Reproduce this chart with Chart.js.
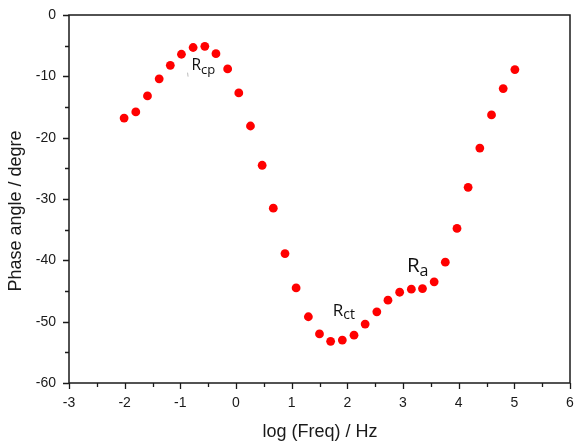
<!DOCTYPE html>
<html>
<head>
<meta charset="utf-8">
<script src="https://cdn.jsdelivr.net/npm/chart.js@4/dist/chart.umd.min.js"></script>
<style>
html,body{margin:0;padding:0;background:#fff;}
#wrap{width:575px;height:447px;position:relative;}
</style>
</head>
<body>
<div id="wrap"><canvas id="c" width="575" height="447"></canvas></div>
<script>
// Data
const logFreq = [-2.01,-1.80,-1.59,-1.38,-1.18,-0.98,-0.77,-0.56,-0.36,-0.15,0.05,0.26,0.47,0.67,0.88,1.08,1.30,1.50,1.70,1.91,2.12,2.32,2.53,2.73,2.94,3.15,3.35,3.56,3.76,3.97,4.17,4.38,4.59,4.80,5.01];
const phaseAngle = [-16.8,-15.8,-13.2,-10.4,-8.2,-6.4,-5.3,-5.1,-6.3,-8.8,-12.7,-18.1,-24.5,-31.5,-38.9,-44.5,-49.2,-52.0,-53.2,-53.0,-52.2,-50.4,-48.4,-46.5,-45.2,-44.7,-44.6,-43.5,-40.3,-34.8,-28.1,-21.7,-16.3,-12.0,-8.9];
const xTicks = [-3,-2,-1,0,1,2,3,4,5,6];
const yTicks = [0,-10,-20,-30,-40,-50,-60];
const labels = [
  {main:'R', sub:'cp', x:-0.80, y:-9.0, size:15.5, subSize:13},
  {main:'R', sub:'ct', x:1.74, y:-49.0, size:17, subSize:14},
  {main:'R', sub:'a', x:3.07, y:-41.9, size:20.5, subSize:16}
];

const pts = logFreq.map((v,i)=>({x:v, y:phaseAngle[i]}));

const frameAndTicks = {
  id:'frameAndTicks',
  afterDraw(chart){
    const ctx = chart.ctx, a = chart.chartArea;
    const xs = chart.scales.x, ys = chart.scales.y;
    ctx.save();
    ctx.strokeStyle = '#1a1a1a';
    ctx.lineWidth = 1.5;
    ctx.strokeRect(a.left, a.top, a.right - a.left, a.bottom - a.top);
    ctx.lineWidth = 1.3;
    ctx.beginPath();
    for (let v = -3; v <= 6.001; v += 0.5) {
      const px = Math.round(xs.getPixelForValue(v)) + 0.5;
      const len = Math.abs(v - Math.round(v)) < 1e-6 ? 6 : 4;
      ctx.moveTo(px, a.bottom); ctx.lineTo(px, a.bottom + len);
    }
    for (let v = -60; v <= 0.001; v += 5) {
      const py = Math.round(ys.getPixelForValue(v)) + 0.5;
      const len = (Math.round(v) % 10 === 0) ? 6 : 4;
      ctx.moveTo(a.left, py); ctx.lineTo(a.left - len, py);
    }
    ctx.stroke();
    // axis titles
    ctx.fillStyle = '#1a1a1a';
    ctx.font = '18px "Liberation Sans", Arial, sans-serif';
    ctx.textAlign = 'center';
    ctx.textBaseline = 'alphabetic';
    ctx.fillText('log (Freq) / Hz', (a.left + a.right)/2 + 0.5, 437);
    ctx.save();
    ctx.translate(21, 211);
    ctx.rotate(-Math.PI/2);
    ctx.fillText('Phase angle / degre', 0, 0);
    ctx.restore();
    // annotations
    ctx.textAlign = 'left';
    ctx.fillStyle = '#111';
    labels.forEach(l => {
      const px = xs.getPixelForValue(l.x), py = ys.getPixelForValue(l.y);
      ctx.font = l.size + 'px "Open Sans", sans-serif';
      ctx.fillText(l.main, px, py);
      const w = ctx.measureText(l.main).width;
      ctx.font = l.subSize + 'px "Open Sans", sans-serif';
      ctx.fillText(l.sub, px + w, py + l.size*0.22);
    });
    // faint mark near Rcp
    ctx.strokeStyle = '#bbb';
    ctx.lineWidth = 1;
    const mx = xs.getPixelForValue(-0.87), my = ys.getPixelForValue(-9.4);
    ctx.beginPath(); ctx.moveTo(mx, my); ctx.lineTo(mx + 0.5, my + 4); ctx.stroke();
    ctx.restore();
  }
};

new Chart(document.getElementById('c'), {
  type:'scatter',
  data:{datasets:[{
    data: pts,
    backgroundColor:'#ff0000',
    borderColor:'#ff0000',
    borderWidth:0,
    pointRadius:4.4,
    pointHoverRadius:4.4
  }]},
  options:{
    responsive:false,
    animation:false,
    events:[],
    layout:{padding:{top:15,right:5,left:0,bottom:0}},
    plugins:{legend:{display:false},tooltip:{enabled:false}},
    scales:{
      x:{
        type:'linear', min:-3, max:6,
        afterBuildTicks(s){ s.ticks = xTicks.map(v=>({value:v})); },
        afterFit(s){ s.height = 64; s.paddingLeft = 0; s.paddingRight = 0; },
        grid:{display:false, drawTicks:false},
        border:{display:false},
        ticks:{padding:12, color:'#1a1a1a', font:{family:'"Liberation Sans", Arial, sans-serif', size:14}, maxRotation:0, callback:v=>String(v)}
      },
      y:{
        type:'linear', min:-60, max:0,
        afterBuildTicks(s){ s.ticks = yTicks.map(v=>({value:v})); },
        afterFit(s){ s.width = 69; s.paddingTop = 0; s.paddingBottom = 0; },
        grid:{display:false, drawTicks:false},
        border:{display:false},
        ticks:{padding:13, color:'#1a1a1a', font:{family:'"Liberation Sans", Arial, sans-serif', size:14}, callback:v=>String(v)}
      }
    }
  },
  plugins:[frameAndTicks]
});
</script>
</body>
</html>
